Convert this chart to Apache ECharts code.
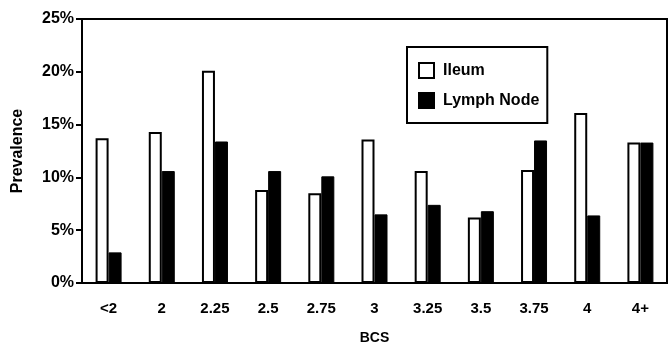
<!DOCTYPE html>
<html>
<head>
<meta charset="utf-8">
<title>BCS prevalence</title>
<script src="https://cdn.jsdelivr.net/npm/echarts@6/dist/echarts.min.js"></script>
</head>
<body style="margin:0;background:#fff">
<div id="main" style="width:670px;height:350px;"></div>
<script type="text/javascript">
var categories = ['<2', '2', '2.25', '2.5', '2.75', '3', '3.25', '3.5', '3.75', '4', '4+'];
var ileum = [13.7, 14.3, 20.1, 8.8, 8.5, 13.6, 10.6, 6.2, 10.7, 16.1, 13.3];
var lymphNode = [2.9, 10.6, 13.4, 10.6, 10.1, 6.5, 7.4, 6.8, 13.5, 6.4, 13.3];

var myChart = echarts.init(document.getElementById('main'));
var font = 'Liberation Sans, Arial, sans-serif';

var option = {
  animation: false,
  textStyle: { fontFamily: font },
  grid: {
    left: 82, right: 3, top: 19, bottom: 66,
    show: true, borderColor: '#000', borderWidth: 2, backgroundColor: 'transparent'
  },
  legend: {
    orient: 'vertical',
    left: 407, top: 47,
    padding: [15, 8, 14, 11],
    itemWidth: 15, itemHeight: 15, itemGap: 13,
    icon: 'rect',
    borderColor: '#000', borderWidth: 2,
    textStyle: { fontSize: 16, fontWeight: 'bold', color: '#000', fontFamily: font, padding: [0, 0, 0, 4] },
    data: ['Ileum', 'Lymph Node']
  },
  xAxis: {
    type: 'category',
    data: categories,
    name: 'BCS',
    nameLocation: 'middle',
    nameGap: 48,
    nameTextStyle: { fontSize: 14, fontWeight: 'bold', color: '#000' },
    axisLine: { lineStyle: { color: '#000', width: 2 } },
    axisTick: { length: 6, lineStyle: { color: '#000', width: 2 } },
    axisLabel: { fontSize: 15, fontWeight: 'bold', color: '#000', margin: 18 }
  },
  yAxis: {
    type: 'value',
    min: 0, max: 25, interval: 5,
    name: 'Prevalence',
    nameLocation: 'middle',
    nameGap: 56,
    nameTextStyle: { fontSize: 16, fontWeight: 'bold', color: '#000' },
    axisLine: { show: true, lineStyle: { color: '#000', width: 2 } },
    axisTick: { show: true, length: 6, lineStyle: { color: '#000', width: 2 } },
    axisLabel: { fontSize: 16, fontWeight: 'bold', color: '#000', formatter: '{value}%', margin: 8 },
    splitLine: { show: false }
  },
  series: [
    {
      name: 'Ileum', type: 'bar', data: ileum,
      barWidth: 13, barGap: '0%',
      itemStyle: { color: '#fff', borderColor: '#000', borderWidth: 2 }
    },
    {
      name: 'Lymph Node', type: 'bar', data: lymphNode,
      barWidth: 13,
      itemStyle: { color: '#000', borderColor: '#000', borderWidth: 1 }
    }
  ]
};

myChart.setOption(option);
</script>
</body>
</html>
